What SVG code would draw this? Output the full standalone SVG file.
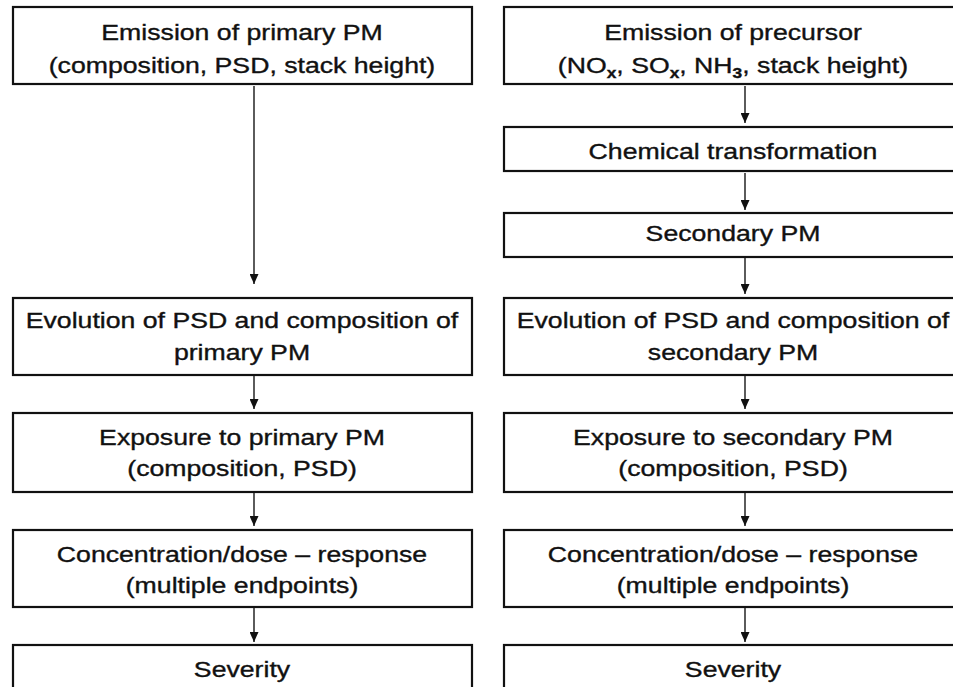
<svg xmlns="http://www.w3.org/2000/svg" width="953" height="687" viewBox="0 0 953 687">
  <style>
    .box { fill: #ffffff; stroke: #111111; stroke-width: 2.2; }
    .lbl { font-family: "Liberation Sans", Arial, sans-serif; font-size: 21.5px; fill: #111111; stroke: #111111; stroke-width: 0.35; text-anchor: middle; }
    .sub { font-size: 14px; font-weight: bold; }
    .edge { stroke: #333333; stroke-width: 1.6; fill: none; marker-end: url(#ah); }
  </style>
  <defs>
    <marker id="ah" markerUnits="userSpaceOnUse" markerWidth="10" markerHeight="9" refX="10" refY="4.5" orient="auto">
      <path d="M0,0 L10,4.5 L0,9 Z" fill="#111111"/>
    </marker>
  </defs>
  <rect width="953" height="687" fill="#ffffff"/>

  <!-- primary PM pathway (left column) -->
  <g id="primary-emission">
    <rect class="box" x="13" y="7" width="459" height="77"/>
    <text class="lbl" transform="translate(242,40) scale(1.24,1)">Emission of primary PM</text>
    <text class="lbl" transform="translate(242,73) scale(1.24,1)">(composition, PSD, stack height)</text>
  </g>
  <g id="primary-evolution">
    <rect class="box" x="13" y="298" width="459" height="77"/>
    <text class="lbl" transform="translate(242,328) scale(1.24,1)">Evolution of PSD and composition of</text>
    <text class="lbl" transform="translate(242,360) scale(1.24,1)">primary PM</text>
  </g>
  <g id="primary-exposure">
    <rect class="box" x="13" y="413" width="459" height="79"/>
    <text class="lbl" transform="translate(242,445) scale(1.24,1)">Exposure to primary PM</text>
    <text class="lbl" transform="translate(242,476) scale(1.24,1)">(composition, PSD)</text>
  </g>
  <g id="primary-response">
    <rect class="box" x="13" y="530" width="459" height="77"/>
    <text class="lbl" transform="translate(242,562) scale(1.24,1)">Concentration/dose – response</text>
    <text class="lbl" transform="translate(242,593) scale(1.24,1)">(multiple endpoints)</text>
  </g>
  <g id="primary-severity">
    <rect class="box" x="13" y="645" width="459" height="60"/>
    <text class="lbl" transform="translate(242,677) scale(1.24,1)">Severity</text>
  </g>

  <!-- secondary PM pathway (right column) -->
  <g id="precursor-emission">
    <rect class="box" x="504" y="7" width="459" height="77"/>
    <text class="lbl" transform="translate(733,40) scale(1.24,1)">Emission of precursor</text>
    <text class="lbl" transform="translate(733,73) scale(1.24,1)">(NO<tspan class="sub" dy="5">x</tspan><tspan dy="-5">, SO</tspan><tspan class="sub" dy="5">x</tspan><tspan dy="-5">, NH</tspan><tspan class="sub" dy="5">3</tspan><tspan dy="-5">, stack height)</tspan></text>
  </g>
  <g id="chemical-transformation">
    <rect class="box" x="504" y="127" width="459" height="44"/>
    <text class="lbl" transform="translate(733,159) scale(1.24,1)">Chemical transformation</text>
  </g>
  <g id="secondary-pm">
    <rect class="box" x="504" y="213" width="459" height="44"/>
    <text class="lbl" transform="translate(733,241) scale(1.24,1)">Secondary PM</text>
  </g>
  <g id="secondary-evolution">
    <rect class="box" x="504" y="298" width="459" height="77"/>
    <text class="lbl" transform="translate(733,328) scale(1.24,1)">Evolution of PSD and composition of</text>
    <text class="lbl" transform="translate(733,360) scale(1.24,1)">secondary PM</text>
  </g>
  <g id="secondary-exposure">
    <rect class="box" x="504" y="413" width="459" height="79"/>
    <text class="lbl" transform="translate(733,445) scale(1.24,1)">Exposure to secondary PM</text>
    <text class="lbl" transform="translate(733,476) scale(1.24,1)">(composition, PSD)</text>
  </g>
  <g id="secondary-response">
    <rect class="box" x="504" y="530" width="459" height="77"/>
    <text class="lbl" transform="translate(733,562) scale(1.24,1)">Concentration/dose – response</text>
    <text class="lbl" transform="translate(733,593) scale(1.24,1)">(multiple endpoints)</text>
  </g>
  <g id="secondary-severity">
    <rect class="box" x="504" y="645" width="459" height="60"/>
    <text class="lbl" transform="translate(733,677) scale(1.24,1)">Severity</text>
  </g>

  <!-- connectors -->
  <g id="connectors">
    <line class="edge" x1="254" y1="86" x2="254" y2="284"/>
    <line class="edge" x1="254" y1="376" x2="254" y2="409"/>
    <line class="edge" x1="254" y1="493" x2="254" y2="526"/>
    <line class="edge" x1="254" y1="608" x2="254" y2="642"/>
    <line class="edge" x1="745" y1="86" x2="745" y2="123"/>
    <line class="edge" x1="745" y1="173" x2="745" y2="210"/>
    <line class="edge" x1="745" y1="258" x2="745" y2="294"/>
    <line class="edge" x1="745" y1="376" x2="745" y2="409"/>
    <line class="edge" x1="745" y1="493" x2="745" y2="526"/>
    <line class="edge" x1="745" y1="608" x2="745" y2="642"/>
  </g>
</svg>
